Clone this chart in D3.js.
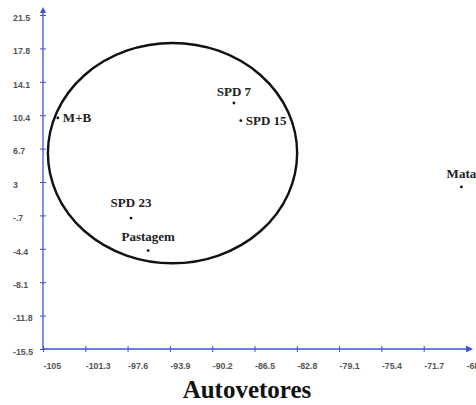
<!DOCTYPE html>
<html>
<head>
<meta charset="utf-8">
<script src="https://cdn.jsdelivr.net/npm/d3@7"></script>
<style>
  body { margin: 0; background: #fff; }
  svg { display: block; }
</style>
</head>
<body>
<div id="chart"></div>
<script>
// point labels and coordinates
const names = ["M+B", "SPD 7", "SPD 15", "SPD 23", "Pastagem", "Mata"];
const xs = [-103.7, -88.3, -87.7, -97.3, -95.8, -68.4];
const ys = [10.1, 11.75, 9.8, -1.0, -4.6, 2.45];

// tick values and their printed labels
const xTicks = [-105, -101.3, -97.6, -93.9, -90.2, -86.5, -82.8, -79.1, -75.4, -71.7, -68];
const xTickLabels = ["-105", "-101.3", "-97.6", "-93.9", "-90.2", "-86.5", "-82.8", "-79.1", "-75.4", "-71.7", "-68"];
const yTicks = [21.5, 17.8, 14.1, 10.4, 6.7, 3, -0.7, -4.4, -8.1, -11.8, -15.5];
const yTickLabels = ["21.5", "17.8", "14.1", "10.4", "6.7", "3", "-.7", "-4.4", "-8.1", "-11.8", "-15.5"];

// grouping ellipse: centre and radii in data units
const ellipseCentre = [-93.67, 6.2];
const ellipseRadii = [10.9, 12.2];

const title = "Autovetores";

const width = 476, height = 405;
const axisColor = "#4152d8";

const svg = d3.select("#chart")
  .append("svg")
    .attr("width", width)
    .attr("height", height);

const x = d3.scaleLinear().domain([-105, -68]).range([43, 466]);
const y = d3.scaleLinear().domain([-15.5, 21.5]).range([349, 15]);

// ellipse around the cluster
svg.append("ellipse")
   .attr("cx", x(ellipseCentre[0]))
   .attr("cy", y(ellipseCentre[1]))
   .attr("rx", x(ellipseCentre[0] + ellipseRadii[0]) - x(ellipseCentre[0]))
   .attr("ry", y(ellipseCentre[1]) - y(ellipseCentre[1] + ellipseRadii[1]))
   .attr("fill", "none")
   .attr("stroke", "#111")
   .attr("stroke-width", 2.4);

// X axis
const xAxis = svg.append("g")
  .attr("transform", "translate(0," + y(-15.5) + ")")
  .call(d3.axisBottom(x)
          .tickValues(xTicks)
          .tickFormat((d, i) => xTickLabels[i])
          .tickSizeInner(4)
          .tickSizeOuter(0));

xAxis.select(".domain").remove();
xAxis.selectAll(".tick line")
     .attr("y1", -3)
     .attr("y2", 3)
     .attr("stroke", axisColor);
xAxis.selectAll(".tick text")
     .attr("text-anchor", "start")
     .attr("x", 0)
     .attr("y", 14)
     .attr("fill", "#555")
     .style("font-family", "Arial, 'Liberation Sans', sans-serif")
     .style("font-size", "8.8px")
     .style("font-weight", "bold");

// Y axis
const yAxis = svg.append("g")
  .attr("transform", "translate(" + x(-105) + ",0)")
  .call(d3.axisLeft(y)
          .tickValues(yTicks)
          .tickFormat((d, i) => yTickLabels[i])
          .tickSizeInner(4)
          .tickSizeOuter(0));

yAxis.select(".domain").remove();
yAxis.selectAll(".tick line")
     .attr("x1", -3)
     .attr("x2", 3)
     .attr("stroke", axisColor);
yAxis.selectAll(".tick text")
     .attr("text-anchor", "start")
     .attr("x", 13 - x(-105))
     .attr("dy", "0.6em")
     .attr("fill", "#555")
     .style("font-family", "Arial, 'Liberation Sans', sans-serif")
     .style("font-size", "8.8px")
     .style("font-weight", "bold");

// axis lines with arrow heads
svg.append("line")
   .attr("x1", x(-105)).attr("x2", x(-105))
   .attr("y1", y(-15.5)).attr("y2", y(21.5) - 3)
   .attr("stroke", axisColor).attr("stroke-width", 1.3);
svg.append("line")
   .attr("x1", x(-105)).attr("x2", x(-68) + 2)
   .attr("y1", y(-15.5)).attr("y2", y(-15.5))
   .attr("stroke", axisColor).attr("stroke-width", 1.3);

let ax = x(-105), ay = y(21.5) - 3;
svg.append("path")
   .attr("d", `M${ax},${ay - 5} L${ax - 3},${ay + 1} L${ax + 3},${ay + 1} Z`)
   .attr("fill", axisColor);
let bx = x(-68) + 2, by = y(-15.5);
svg.append("path")
   .attr("d", `M${bx + 5},${by} L${bx - 1},${by - 3} L${bx - 1},${by + 3} Z`)
   .attr("fill", axisColor);

// points
const points = names.map((n, i) => ({name: n, x: xs[i], y: ys[i]}));

svg.selectAll("circle.pt")
   .data(points)
   .enter().append("circle")
   .attr("class", "pt")
   .attr("cx", d => x(d.x))
   .attr("cy", d => y(d.y))
   .attr("r", 1.4)
   .attr("fill", "#111");

// label placement: right of the dot or centred above it
const rightSide = {"M+B": true, "SPD 15": true};
const aboveGap = {"SPD 7": 7, "SPD 23": 11, "Pastagem": 10, "Mata": 9};

svg.selectAll("text.lbl")
   .data(points)
   .enter().append("text")
   .attr("class", "lbl")
   .attr("x", d => rightSide[d.name] ? x(d.x) + 5 : x(d.x))
   .attr("y", d => rightSide[d.name] ? y(d.y) + 4.5 : y(d.y) - aboveGap[d.name])
   .attr("text-anchor", d => rightSide[d.name] ? "start" : "middle")
   .attr("fill", "#222")
   .style("font-family", "'Liberation Serif', 'Times New Roman', serif")
   .style("font-size", "13px")
   .style("font-weight", "bold")
   .text(d => d.name);

// title
svg.append("text")
   .attr("x", 247)
   .attr("y", 398)
   .attr("text-anchor", "middle")
   .attr("fill", "#111")
   .style("font-family", "'Liberation Serif', 'Times New Roman', serif")
   .style("font-size", "25px")
   .style("font-weight", "bold")
   .text(title);
</script>
</body>
</html>
